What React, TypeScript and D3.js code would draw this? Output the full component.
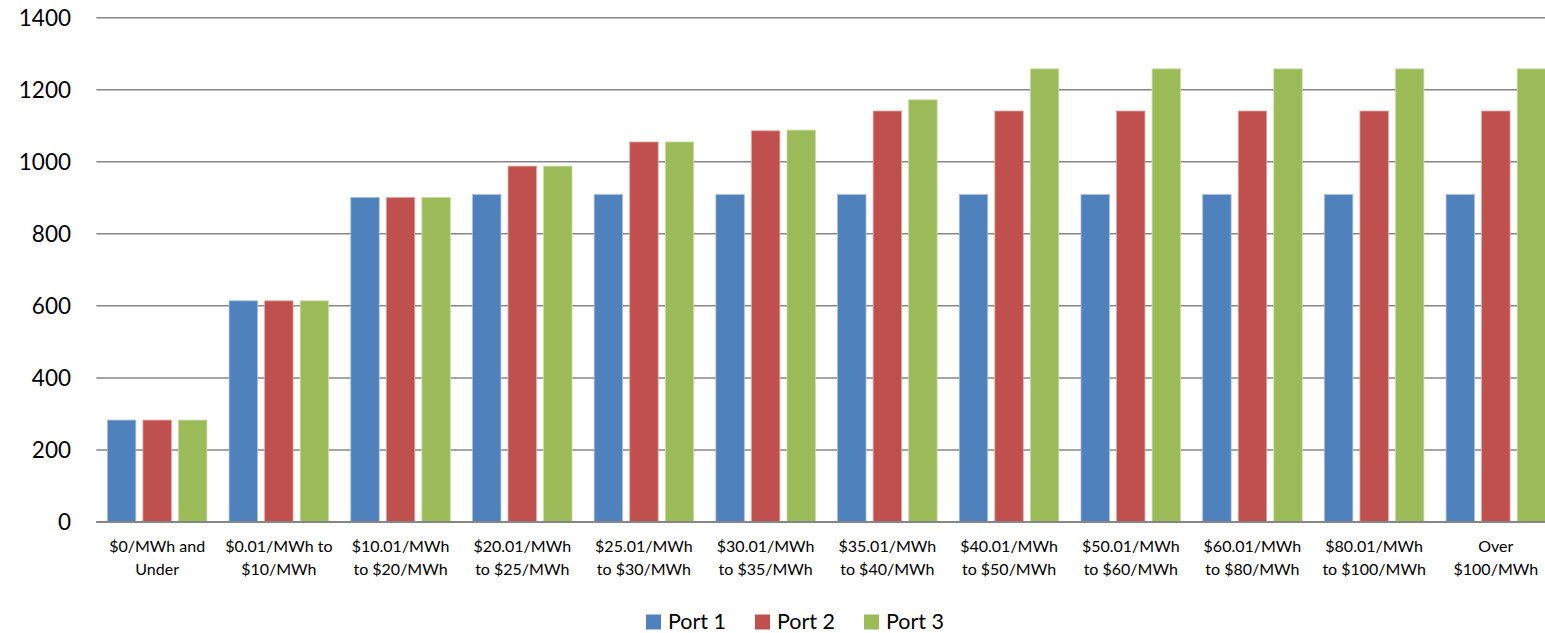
import React from "react";
import * as d3 from "d3";

const categories: string[][] = [
  ["$0/MWh and", "Under"],
  ["$0.01/MWh to", "$10/MWh"],
  ["$10.01/MWh", "to $20/MWh"],
  ["$20.01/MWh", "to $25/MWh"],
  ["$25.01/MWh", "to $30/MWh"],
  ["$30.01/MWh", "to $35/MWh"],
  ["$35.01/MWh", "to $40/MWh"],
  ["$40.01/MWh", "to $50/MWh"],
  ["$50.01/MWh", "to $60/MWh"],
  ["$60.01/MWh", "to $80/MWh"],
  ["$80.01/MWh", "to $100/MWh"],
  ["Over", "$100/MWh"],
];

const seriesNames = ["Port 1", "Port 2", "Port 3"];
const port1 = [283, 614, 901, 909, 909, 909, 909, 909, 909, 909, 909, 909];
const port2 = [283, 614, 901, 988, 1055, 1086, 1141, 1141, 1141, 1141, 1141, 1141];
const port3 = [283, 614, 901, 988, 1055, 1088, 1172, 1258, 1258, 1258, 1258, 1258];
const seriesValues = [port1, port2, port3];
const colors = ["#4F81BD", "#C0504D", "#9BBB59"];
const strokes = ["#a9c0de", "#e0a8a6", "#cddda9"];
const yTicks = [0, 200, 400, 600, 800, 1000, 1200, 1400];

const FONT = "Lato, 'Open Sans', sans-serif";

export default function App() {
  const W = 1545;
  const H = 633;
  const left = 96.3;
  const step = 121.7;
  const right = left + step * categories.length;
  const top = 17.7;
  const bottom = 522;

  const x0 = d3
    .scaleBand<number>()
    .domain(categories.map((_, i) => i))
    .range([left, right])
    .paddingInner(0.182)
    .paddingOuter(0.091);
  const x1 = d3
    .scaleBand<number>()
    .domain(seriesNames.map((_, i) => i))
    .range([0, x0.bandwidth()])
    .paddingInner(0.2);
  const y = d3.scaleLinear().domain([0, 1400]).range([bottom, top]);

  const legendX = [646, 755, 864];

  return (
    <svg
      width={W}
      height={H}
      style={{ position: "absolute", left: 0, top: 0, background: "#fff" }}
      fontFamily={FONT}
    >
      {yTicks.map((t) => (
        <g key={t}>
          <line x1={left} x2={W} y1={y(t)} y2={y(t)} stroke="#868686" strokeWidth={1.5} />
          <text x={71} y={y(t)} dy="0.36em" textAnchor="end" fontSize={22.5} fill="#000">
            {t}
          </text>
        </g>
      ))}
      {seriesValues.map((vals, s) =>
        vals.map((v, i) => (
          <rect
            key={`${s}-${i}`}
            x={(x0(i) ?? 0) + (x1(s) ?? 0)}
            y={y(v)}
            width={x1.bandwidth()}
            height={bottom - y(v)}
            fill={colors[s]}
            stroke={strokes[s]}
            strokeWidth={0.8}
          />
        ))
      )}
      <line x1={left} x2={W} y1={bottom} y2={bottom} stroke="#868686" strokeWidth={1.8} />
      {categories.map((lines, i) => {
        const cx = (x0(i) ?? 0) + x0.bandwidth() / 2;
        return (
          <text key={i} textAnchor="middle" fontSize={16} fill="#000">
            <tspan x={cx} y={546.7} dy="0.36em">{lines[0]}</tspan>
            <tspan x={cx} y={569.3} dy="0.36em">{lines[1]}</tspan>
          </text>
        );
      })}
      {seriesNames.map((name, s) => (
        <g key={name}>
          <rect x={legendX[s]} y={614.5} width={15} height={15} fill={colors[s]} />
          <text x={legendX[s] + 22} y={621} dy="0.36em" fontSize={21.5} fill="#000">
            {name}
          </text>
        </g>
      ))}
    </svg>
  );
}
